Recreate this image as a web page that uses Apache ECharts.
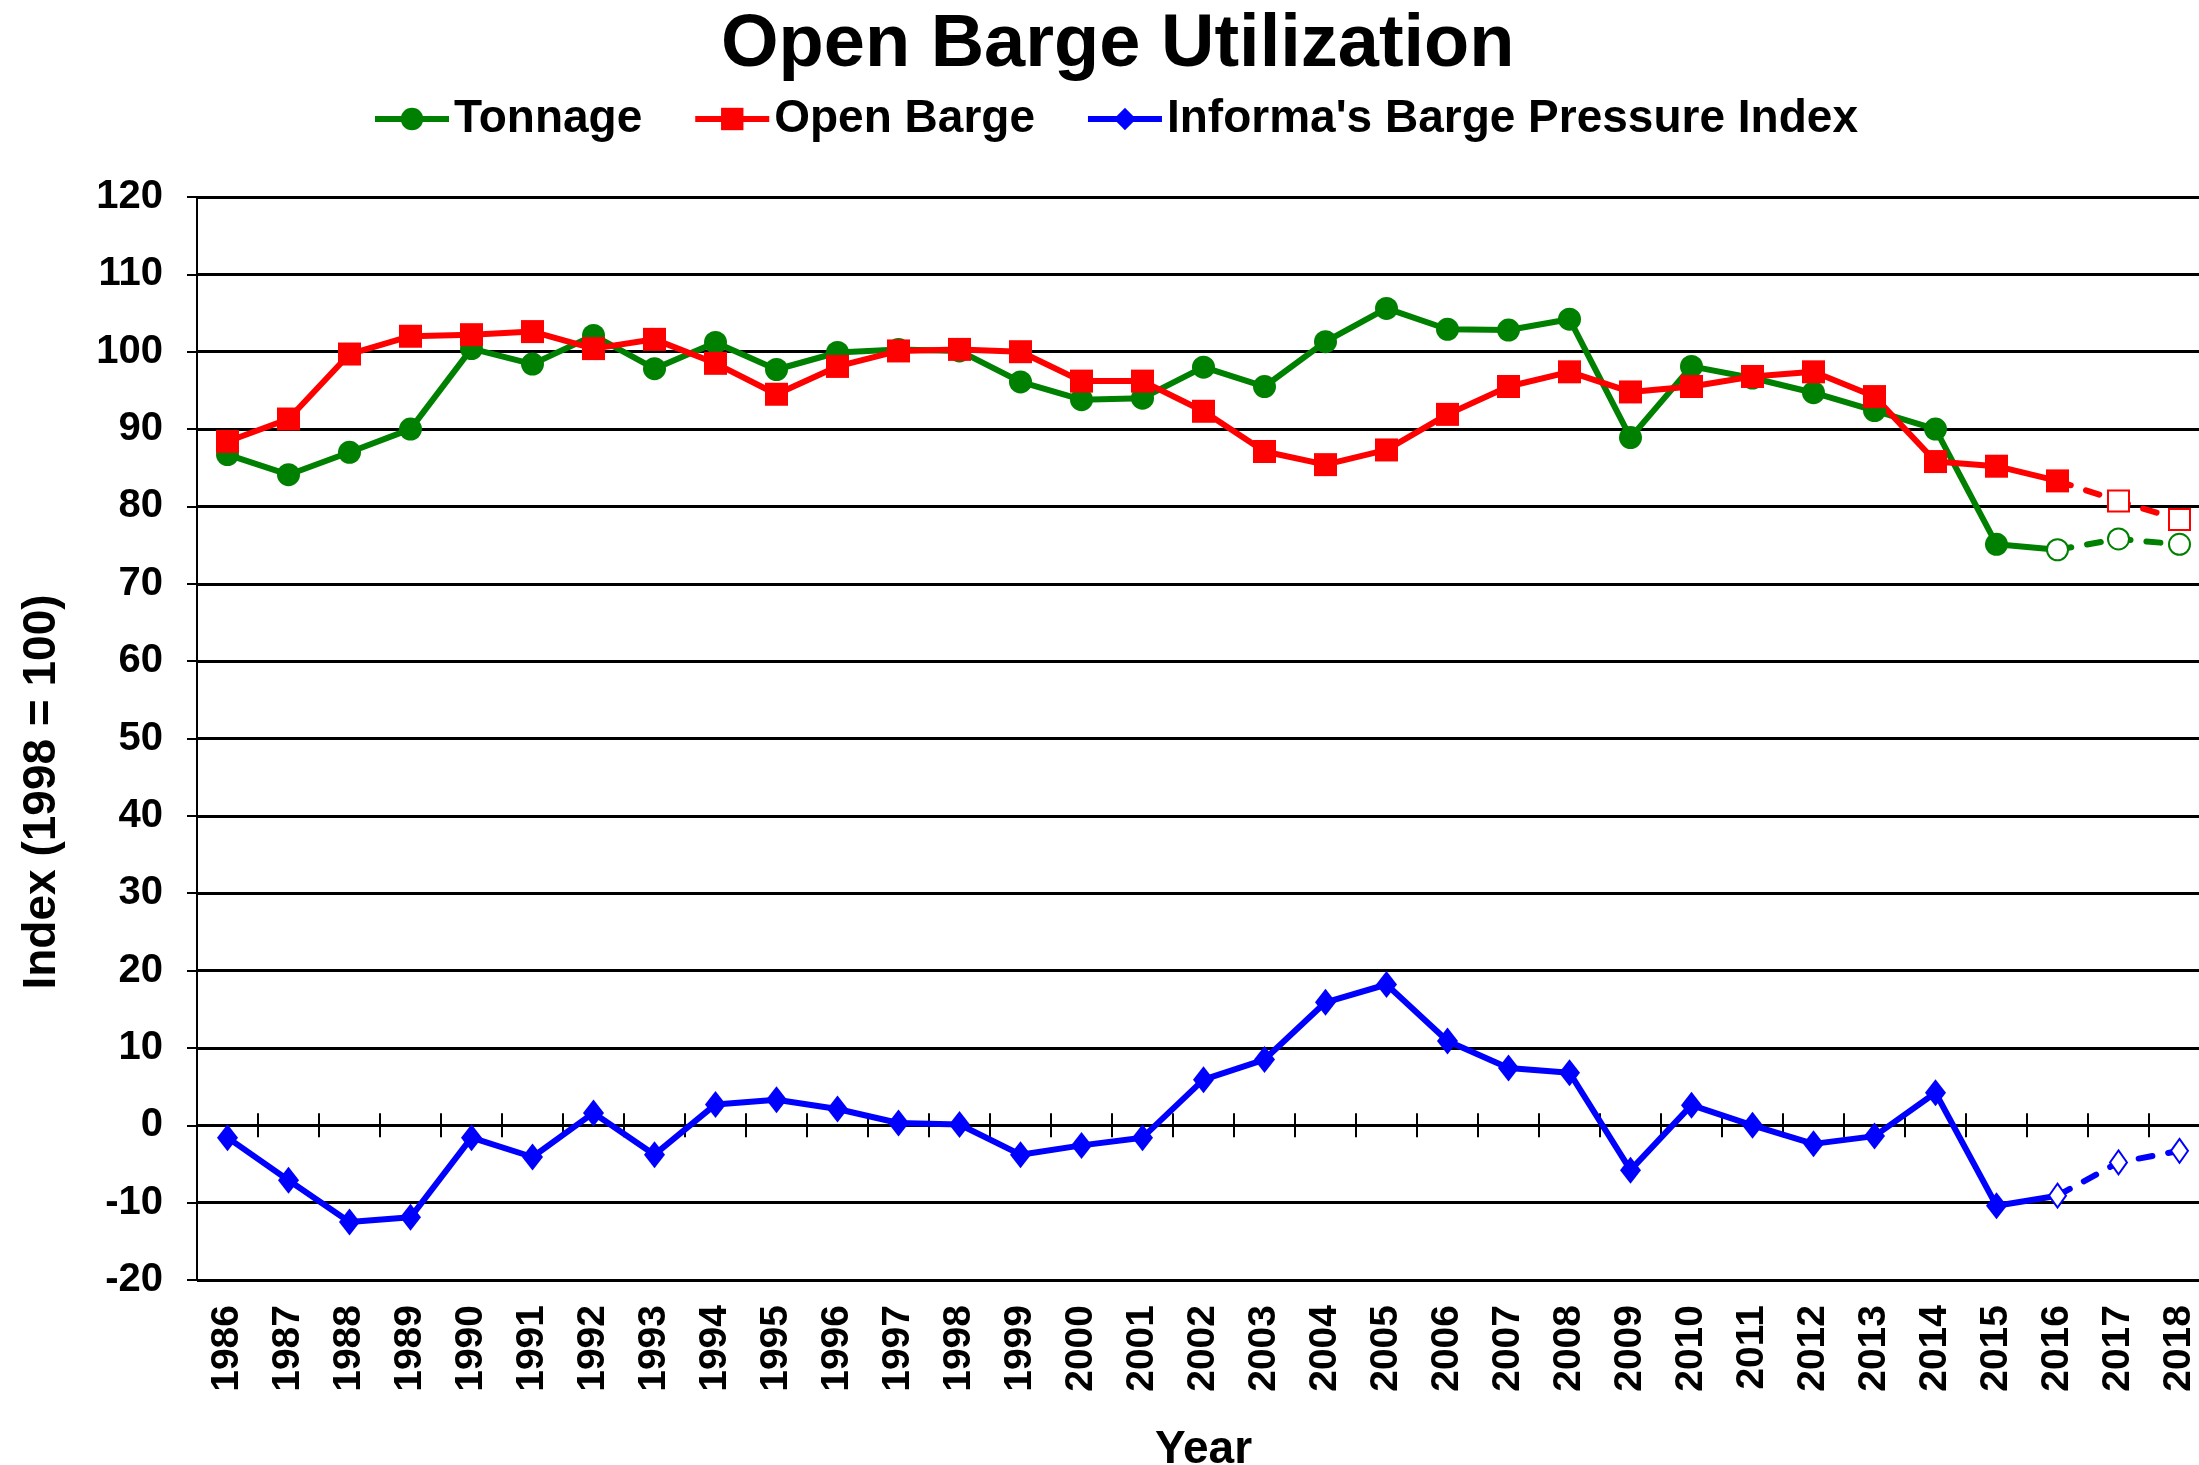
<!DOCTYPE html>
<html>
<head>
<meta charset="utf-8">
<script src="https://cdn.jsdelivr.net/npm/echarts@6/dist/echarts.min.js"></script>
<style>
html, body { margin: 0; padding: 0; background: #fff; }
#chart { width: 2199px; height: 1465px; }
</style>
</head>
<body>
<div id="chart"></div>
<script>
// data, one value per year
var years = ['1986','1987','1988','1989','1990','1991','1992','1993','1994','1995','1996',
    '1997','1998','1999','2000','2001','2002','2003','2004','2005','2006','2007',
    '2008','2009','2010','2011','2012','2013','2014','2015','2016','2017','2018'];
var tonnage = [86.7, 84.1, 87.0, 90.0, 100.4, 98.4, 102.1, 97.8, 101.2, 97.7, 99.9,
    100.3, 100.1, 96.1, 93.8, 94.0, 98.0, 95.5, 101.3, 105.6, 102.9, 102.8,
    104.2, 88.9, 98.1, 96.6, 94.7, 92.4, 90.0, 75.1, 74.4, 75.8, 75.1];
var openBarge = [88.4, 91.3, 99.7, 102.0, 102.2, 102.6, 100.4, 101.6, 98.5, 94.5, 98.1,
    100.1, 100.3, 100.0, 96.2, 96.2, 92.3, 87.1, 85.4, 87.3, 91.9, 95.5,
    97.4, 94.8, 95.5, 96.8, 97.4, 94.2, 85.8, 85.2, 83.3, 80.7, 78.3];
var pressure = [-1.6, -7.1, -12.5, -11.9, -1.6, -4.1, 1.6, -3.8, 2.7, 3.3, 2.1,
    0.3, 0.1, -3.8, -2.6, -1.6, 5.9, 8.5, 15.9, 18.2, 10.9, 7.4,
    6.8, -5.8, 2.6, 0.0, -2.4, -1.4, 4.2, -10.4, -9.1, -4.8, -3.3];
var yTicks = { min: -20, max: 120, step: 10 };

var FONT = '"Liberation Sans", Arial, sans-serif';
var forecastFrom = years.indexOf('2016');

// solid part + dashed forecast part for one line
function makeSeries(name, values, color, symbol, size, hollowSize, hollowFrom) {
    var hollowIdx = years.indexOf(hollowFrom);
    var hollow = {color: '#fff', borderColor: color, borderWidth: 2};
    var solid = values.map(function(v, i) {
        if (i > forecastFrom) return null;
        if (i >= hollowIdx) return {value: v, symbolSize: hollowSize, itemStyle: hollow};
        return v;
    });
    var dashed = values.map(function(v, i) {
        if (i < forecastFrom) return null;
        if (i == forecastFrom) return {value: v, symbol: 'none'};
        return {value: v, symbolSize: hollowSize, itemStyle: hollow};
    });
    return [{
        name: name,
        type: 'line',
        data: solid,
        z: 3,
        symbol: symbol,
        symbolSize: size,
        showAllSymbol: true,
        lineStyle: {color: color, width: 6},
        itemStyle: {color: color}
    }, {
        name: name + ' forecast',
        type: 'line',
        data: dashed,
        z: 2,
        symbol: symbol,
        symbolSize: size,
        showAllSymbol: true,
        lineStyle: {color: color, width: 6, type: [14, 16], cap: 'round'},
        itemStyle: {color: color}
    }];
}

var series = [].concat(
    makeSeries('Tonnage', tonnage, '#008000', 'circle', 23, 21, '2016'),
    makeSeries('Open Barge', openBarge, '#ff0000', 'rect', 23, 21, '2017'),
    makeSeries("Informa's Barge Pressure Index", pressure, '#0000ff', 'diamond', [21, 27], [17, 24], '2016')
);

var tickAxis = function(inside) {
    return {
        type: 'category',
        data: years,
        position: 'bottom',
        boundaryGap: true,
        axisLine: {show: false, onZero: true, onZeroAxisIndex: 0},
        axisTick: {show: true, inside: inside, length: 12, lineStyle: {color: '#000', width: 2}},
        axisLabel: {show: false},
        splitLine: {show: false}
    };
};

var myChart = echarts.init(document.getElementById('chart'));
myChart.setOption({
    animation: false,
    backgroundColor: '#fff',
    title: {
        text: 'Open Barge Utilization',
        left: 716,
        top: 4,
        textStyle: {fontFamily: FONT, fontSize: 74, fontWeight: 'bold', color: '#000'}
    },
    legend: {
        data: ['Tonnage', 'Open Barge', "Informa's Barge Pressure Index"],
        left: 372,
        top: 96,
        padding: 0,
        itemWidth: 74,
        itemHeight: 28,
        itemGap: 50,
        lineStyle: {width: 6},
        textStyle: {fontFamily: FONT, fontSize: 46, fontWeight: 'bold', color: '#000'}
    },
    grid: {left: 197, top: 197, width: 2013, height: 1083, outerBoundsMode: 'none'},
    xAxis: [{
        type: 'category',
        data: years,
        position: 'bottom',
        boundaryGap: true,
        axisLine: {show: false, onZero: false},
        axisTick: {show: false},
        axisLabel: {
            rotate: 90, margin: 25, interval: 0,
            fontFamily: FONT, fontSize: 39, fontWeight: 'bold', color: '#000'
        },
        name: 'Year',
        nameLocation: 'middle',
        nameGap: 147,
        nameTextStyle: {fontFamily: FONT, fontSize: 46, fontWeight: 'bold', color: '#000'}
    }, tickAxis(false), tickAxis(true)],
    yAxis: {
        type: 'value',
        min: yTicks.min,
        max: yTicks.max,
        interval: yTicks.step,
        axisLine: {show: true, lineStyle: {color: '#000', width: 2}},
        axisTick: {show: true, length: 10, lineStyle: {color: '#000', width: 2}},
        axisLabel: {margin: 34, fontFamily: FONT, fontSize: 40, fontWeight: 'bold', color: '#000'},
        splitLine: {show: true, lineStyle: {color: '#000', width: 3}}
    },
    graphic: [{
        type: 'text',
        x: 42,
        y: 792,
        rotation: Math.PI / 2,
        style: {
            text: 'Index (1998 = 100)',
            font: 'bold 46px ' + FONT,
            fill: '#000',
            align: 'center',
            verticalAlign: 'middle'
        }
    }],
    series: series
});
</script>
</body>
</html>
